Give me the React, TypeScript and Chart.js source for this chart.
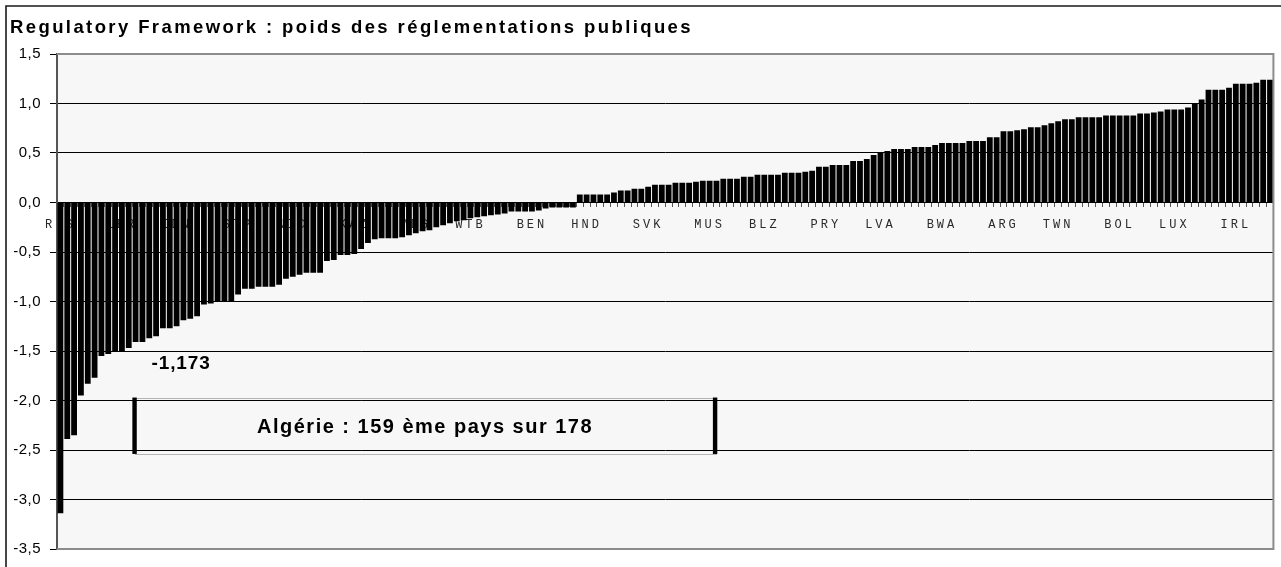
import React, { useEffect, useRef } from "react";
import { Chart, registerables } from "chart.js";

Chart.register(...registerables);

// ---------- data ----------
const chartTitle = "Regulatory Framework : poids des réglementations publiques";

// 178 countries, sorted by score; only every ~9th code is printed on the axis
const categories: string[] = [
  "RUS", "", "", "", "", "", "", "", "", "LBR",
  "", "", "", "", "", "", "", "IDN", "", "",
  "", "", "", "", "", "", "STP", "", "", "",
  "", "", "", "", "NIC", "", "", "", "", "",
  "", "", "", "KAZ", "", "", "", "", "", "",
  "", "", "MDG", "", "", "", "", "", "", "",
  "WTB", "", "", "", "", "", "", "", "", "BEN",
  "", "", "", "", "", "", "", "HND", "", "",
  "", "", "", "", "", "", "SVK", "", "", "",
  "", "", "", "", "", "MUS", "", "", "", "",
  "", "", "", "BLZ", "", "", "", "", "", "",
  "", "", "PRY", "", "", "", "", "", "", "",
  "LVA", "", "", "", "", "", "", "", "", "BWA",
  "", "", "", "", "", "", "", "", "ARG", "",
  "", "", "", "", "", "", "TWN", "", "", "",
  "", "", "", "", "", "BOL", "", "", "", "",
  "", "", "", "LUX", "", "", "", "", "", "",
  "", "", "IRL", "", "", "", "", "",
];

const scores: number[] = [
  -3.14, -2.39, -2.35, -1.95, -1.83, -1.77, -1.55, -1.53, -1.51, -1.5,
  -1.47, -1.41, -1.41, -1.37, -1.35, -1.27, -1.27, -1.25, -1.19, -1.173,
  -1.15, -1.03, -1.02, -1.0, -1.0, -1.0, -0.93, -0.87, -0.87, -0.85,
  -0.85, -0.85, -0.83, -0.77, -0.75, -0.73, -0.71, -0.71, -0.71, -0.59,
  -0.58, -0.53, -0.53, -0.52, -0.47, -0.41, -0.37, -0.36, -0.36, -0.36,
  -0.35, -0.33, -0.31, -0.29, -0.28, -0.25, -0.23, -0.21, -0.19, -0.18,
  -0.16, -0.15, -0.14, -0.13, -0.12, -0.11, -0.09, -0.09, -0.09, -0.09,
  -0.08, -0.06, -0.05, -0.05, -0.05, -0.05, 0.08, 0.08, 0.08, 0.08,
  0.08, 0.1, 0.12, 0.12, 0.14, 0.14, 0.16, 0.18, 0.18, 0.18,
  0.2, 0.2, 0.2, 0.21, 0.22, 0.22, 0.22, 0.24, 0.24, 0.24,
  0.26, 0.26, 0.28, 0.28, 0.28, 0.28, 0.3, 0.3, 0.3, 0.31,
  0.32, 0.36, 0.36, 0.38, 0.38, 0.38, 0.42, 0.42, 0.44, 0.48,
  0.5, 0.52, 0.54, 0.54, 0.54, 0.56, 0.56, 0.56, 0.58, 0.6,
  0.6, 0.6, 0.6, 0.62, 0.62, 0.62, 0.66, 0.66, 0.72, 0.72,
  0.73, 0.74, 0.76, 0.76, 0.78, 0.8, 0.82, 0.84, 0.84, 0.86,
  0.86, 0.86, 0.86, 0.88, 0.88, 0.88, 0.88, 0.88, 0.9, 0.9,
  0.91, 0.92, 0.94, 0.94, 0.94, 0.96, 1.0, 1.04, 1.14, 1.14,
  1.14, 1.16, 1.2, 1.2, 1.2, 1.21, 1.24, 1.24,
];

const yMin = -3.5;
const yMax = 1.5;
const yStep = 0.5;

const algeriaScoreLabel = "-1,173";
const rankLabel = "Algérie : 159 ème pays sur 178";

// annotation placement, in chart (category / value) units
const scoreLabelAt = { x: 17.6, y: -1.68 };
const rankBox = { x0: 10.85, x1: 95.8, yTop: -1.97, yBottom: -2.54 };
const rankTextAt = { x: 53.25, y: -2.33 };

// ---------- drawing helpers ----------
const SANS = "'Liberation Sans', Arial, Helvetica, sans-serif";
const MONO = "'Liberation Mono', 'Courier New', monospace";

function fitText(
  ctx: CanvasRenderingContext2D,
  text: string,
  font: string,
  x: number,
  y: number,
  width: number,
  align: CanvasTextAlign
) {
  ctx.font = font;
  (ctx as any).letterSpacing = "0px";
  const w0 = ctx.measureText(text).width;
  const ls = Math.max((width - w0) / text.length, 0);
  (ctx as any).letterSpacing = `${ls}px`;
  ctx.textAlign = align;
  ctx.textBaseline = "alphabetic";
  ctx.fillText(text, align === "center" ? x + ls / 2 : x, y);
  (ctx as any).letterSpacing = "0px";
}

// give a scale's tick labels their own letter spacing
function spacedLabels(spacing: string) {
  return (s: any) => {
    if (s.__spaced) return;
    const orig = s.drawLabels.bind(s);
    s.drawLabels = (area: any) => {
      const c = s.ctx as any;
      const prev = c.letterSpacing;
      c.letterSpacing = spacing;
      orig(area);
      c.letterSpacing = prev || "0px";
    };
    s.__spaced = true;
  };
}

const decorPlugin = {
  id: "decor",
  beforeDraw(chart: any) {
    const { ctx, chartArea: a } = chart;
    ctx.save();
    ctx.fillStyle = "#f7f7f7";
    ctx.fillRect(a.left, a.top, a.right - a.left, a.bottom - a.top);
    ctx.restore();
  },
  afterDraw(chart: any) {
    const { ctx, chartArea: a, scales } = chart;
    const x = scales.x;
    const y = scales.y;
    ctx.save();

    // plot-area border (top, right, bottom)
    ctx.strokeStyle = "#8c8c8c";
    ctx.lineWidth = 2;
    ctx.beginPath();
    ctx.moveTo(a.left, a.top);
    ctx.lineTo(a.right, a.top);
    ctx.lineTo(a.right, a.bottom);
    ctx.lineTo(a.left, a.bottom);
    ctx.stroke();

    // outer frame (left and top edges visible)
    ctx.strokeStyle = "#1a1a1a";
    ctx.lineWidth = 1.6;
    ctx.beginPath();
    ctx.moveTo(6, chart.height + 10);
    ctx.lineTo(6, 6);
    ctx.lineTo(chart.width + 10, 6);
    ctx.stroke();

    // title
    ctx.fillStyle = "#000";
    fitText(ctx, chartTitle, `bold 18.5px ${SANS}`, 10, 33, 683, "left");

    // Algeria score label
    fitText(
      ctx,
      algeriaScoreLabel,
      `bold 19px ${SANS}`,
      x.getPixelForValue(scoreLabelAt.x),
      y.getPixelForValue(scoreLabelAt.y),
      59,
      "center"
    );

    // rank box
    const bx0 = x.getPixelForValue(rankBox.x0);
    const bx1 = x.getPixelForValue(rankBox.x1);
    const byT = y.getPixelForValue(rankBox.yTop);
    const byB = y.getPixelForValue(rankBox.yBottom);
    ctx.strokeStyle = "#b4b4b4";
    ctx.lineWidth = 1;
    ctx.strokeRect(Math.round(bx0) + 0.5, Math.round(byT) + 0.5, Math.round(bx1 - bx0), Math.round(byB - byT));
    ctx.fillStyle = "#000";
    ctx.fillRect(bx0 - 2.2, byT, 4.4, byB - byT);
    ctx.fillRect(bx1 - 2.2, byT, 4.4, byB - byT);

    fitText(
      ctx,
      rankLabel,
      `bold 20px ${SANS}`,
      x.getPixelForValue(rankTextAt.x),
      y.getPixelForValue(rankTextAt.y),
      336,
      "center"
    );

    ctx.restore();
  },
};

export default function App() {
  const ref = useRef<HTMLCanvasElement | null>(null);

  useEffect(() => {
    const canvas = ref.current;
    if (!canvas) return;
    Chart.defaults.font.family = SANS;

    const chart = new Chart(canvas, {
      type: "bar",
      data: {
        labels: categories,
        datasets: [
          {
            data: scores,
            backgroundColor: "#000",
            borderWidth: 0,
            barPercentage: 0.85,
            categoryPercentage: 1.0,
          },
        ],
      },
      options: {
        responsive: false,
        animation: false,
        devicePixelRatio: 1,
        layout: { padding: { left: 0, right: 2, top: 54, bottom: 12 } },
        plugins: {
          legend: { display: false },
          title: { display: false },
          tooltip: { enabled: false },
        },
        scales: {
          x: {
            type: "category",
            position: { y: 0 } as any,
            offset: true,
            grid: {
              display: true,
              drawOnChartArea: false,
              drawTicks: true,
              tickLength: 4,
              color: "#555",
              offset: true,
            },
            border: { display: true, color: "#000", width: 1 },
            ticks: {
              autoSkip: false,
              maxRotation: 0,
              minRotation: 0,
              padding: 11,
              color: "#2a2a2a",
              font: { family: MONO, size: 12 },
            },
            afterFit: (s: any) => {
              s.height = 0;
            },
            afterUpdate: spacedLabels("3px"),
          },
          y: {
            min: yMin,
            max: yMax,
            position: "left",
            ticks: {
              stepSize: yStep,
              color: "#000",
              padding: 9,
              font: { family: SANS, size: 15 },
              callback: (v: any) => Number(v).toFixed(1).replace(".", ","),
            },
            grid: {
              color: (c: any) =>
                c.tick && (Math.abs(c.tick.value - yMax) < 1e-9 || Math.abs(c.tick.value - yMin) < 1e-9)
                  ? "rgba(0,0,0,0)"
                  : "#000",
              tickColor: "#000",
              tickLength: 7,
              lineWidth: 1,
            },
            border: { display: true, color: "#555", width: 2 },
            afterFit: (s: any) => {
              s.width = 57;
            },
            afterUpdate: spacedLabels("0.5px"),
          },
        },
      },
      plugins: [decorPlugin],
    } as any);

    return () => chart.destroy();
  }, []);

  return (
    <div
      style={{
        position: "absolute",
        left: 0,
        top: 0,
        width: 1281,
        height: 567,
        background: "#fff",
      }}
    >
      <canvas
        ref={ref}
        width={1281}
        height={567}
        style={{ display: "block", width: 1281, height: 567 }}
      />
    </div>
  );
}
